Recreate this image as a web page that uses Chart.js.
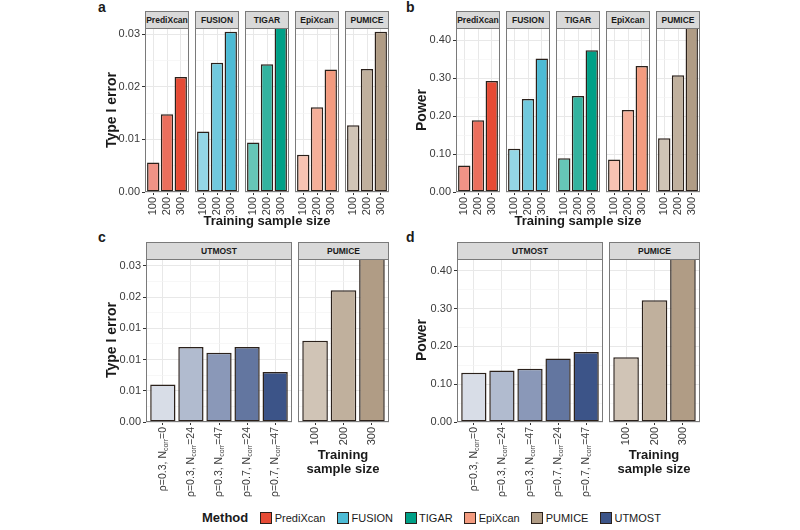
<!DOCTYPE html>
<html>
<head>
<meta charset="utf-8">
<script src="https://cdn.jsdelivr.net/npm/chart.js@4.4.1/dist/chart.umd.min.js"></script>
<style>
  body { margin: 0; width: 800px; height: 530px; position: relative; overflow: hidden; background: #fff;
         font-family: "Liberation Sans", Arial, Helvetica, sans-serif; color: #1a1a1a; }
  canvas { position: absolute; }
  .strip { position: absolute; box-sizing: border-box; background: #d9d9d9; border: 1px solid #7a7a7a;
           font-weight: bold; font-size: 8.5px; display: flex; align-items: center; justify-content: center; }
  .ytitle { position: absolute; font-weight: bold; font-size: 14px; white-space: nowrap;
            transform: translate(-50%, -50%) rotate(-90deg); }
  .xtitle { position: absolute; font-weight: bold; font-size: 13px; line-height: 14px; text-align: center;
            transform: translateX(-50%); white-space: nowrap; }
  .letter { position: absolute; font-weight: bold; font-size: 14px; line-height: 14px; }
  #legend { position: absolute; left: 202px; top: 510px; display: flex;
            align-items: center; font-size: 11px; white-space: nowrap; }
  #legend .key { width: 10px; height: 10px; border: 1px solid #2b211b; margin-right: 2.5px; }
  #legend .item { display: flex; align-items: center; margin-right: 11.5px; }
</style>
</head>
<body>
<div id="legend"></div>
<script>
const FONT = '"Liberation Sans", Arial, Helvetica, sans-serif';

// Методы и цвета
const METHODS = ['PrediXcan', 'FUSION', 'TIGAR', 'EpiXcan', 'PUMICE', 'UTMOST'];
const METHOD_COLORS = ['#E64B35', '#4DBBD5', '#00A087', '#F39B7F', '#B09C85', '#3C5488'];
const SIZES = ['100', '200', '300'];

// a: Type I error
const errPrediXcan = [0.0056, 0.0148, 0.0219];
const errFusion    = [0.0115, 0.0246, 0.0305];
const errTigar     = [0.0094, 0.0243, 0.0330];
const errEpiXcan   = [0.0071, 0.0161, 0.0233];
const errPumice    = [0.0127, 0.0234, 0.0305];
const errTicks      = [0, 0.01, 0.02, 0.03];
const errTickLabels = ['0.00', '0.01', '0.02', '0.03'];

// b: Power
const powPrediXcan = [0.070, 0.189, 0.293];
const powFusion    = [0.114, 0.245, 0.352];
const powTigar     = [0.089, 0.253, 0.374];
const powEpiXcan   = [0.086, 0.216, 0.332];
const powPumice    = [0.142, 0.308, 0.460];
const powTicks      = [0, 0.1, 0.2, 0.3, 0.4];
const powTickLabels = ['0.00', '0.10', '0.20', '0.30', '0.40'];

// c / d: UTMOST vs PUMICE
const utmostRho   = ['0.3', '0.3', '0.3', '0.7', '0.7'];
const utmostNcorr = ['0', '24', '47', '24', '47'];
const errUtmost   = [0.0060, 0.0120, 0.0111, 0.0120, 0.0080];
const errPumiceC  = [0.0130, 0.0211, 0.0280];
const errTicksC      = [0, 0.005, 0.01, 0.015, 0.02, 0.025];
const errTickLabelsC = ['0.00', '0.01', '0.01', '0.01', '0.02', '0.03'];
const powUtmost   = [0.130, 0.136, 0.141, 0.168, 0.185];
const powPumiceD  = [0.171, 0.322, 0.460];

// Утилиты
function tint(hex, a) {
  const n = parseInt(hex.slice(1), 16);
  const c = [n >> 16, (n >> 8) & 255, n & 255].map(v => Math.round(v * a + 255 * (1 - a)));
  return `rgb(${c.join(',')})`;
}

function withMinor(major, max) {
  const out = [];
  major.forEach((v, i) => {
    out.push({ value: v, minor: false });
    const step = i < major.length - 1 ? major[i + 1] - v : v - major[i - 1];
    if (v + step / 2 <= max) out.push({ value: v + step / 2, minor: true });
  });
  return out;
}

function addEl(cls, text, css) {
  const el = document.createElement('div');
  el.className = cls;
  el.innerHTML = text;
  el.style.cssText = css;
  document.body.appendChild(el);
  return el;
}

const panelBorder = {
  id: 'panelBorder',
  afterDatasetsDraw(chart) {
    const a = chart.chartArea, ctx = chart.ctx;
    ctx.save();
    ctx.strokeStyle = '#7a7a7a';
    ctx.lineWidth = 1;
    ctx.strokeRect(a.left + 0.5, a.top + 0.5, a.right - a.left - 1, a.bottom - a.top - 1);
    ctx.restore();
  }
};

// подписи вида ρ=0.3, N_corr=24 (с нижним индексом)
function subscriptLabels(rho, ncorr) {
  return {
    id: 'subLabels',
    afterDraw(chart) {
      const { ctx, chartArea } = chart;
      const xs = chart.scales.x;
      ctx.save();
      ctx.fillStyle = '#3a3a3a';
      ctx.textBaseline = 'middle';
      ctx.textAlign = 'left';
      rho.forEach((r, i) => {
        const parts = [[`ρ=${r}, N`, 10.5, 0], ['corr', 7, 3], [`=${ncorr[i]}`, 10.5, 0]];
        const widths = parts.map(([t, s]) => { ctx.font = `${s}px ${FONT}`; return ctx.measureText(t).width; });
        const total = widths.reduce((a, b) => a + b, 0);
        ctx.save();
        ctx.translate(xs.getPixelForValue(i), chartArea.bottom + 5);
        ctx.rotate(-Math.PI / 2);
        let px = -total;
        parts.forEach(([t, s, dy], k) => {
          ctx.font = `${s}px ${FONT}`;
          ctx.fillText(t, px, dy);
          px += widths[k];
        });
        ctx.restore();
      });
      ctx.restore();
    }
  };
}

function makeFacet(o) {
  const axisW = o.axisW || 0;
  const cv = document.createElement('canvas');
  cv.width = o.w + axisW;
  cv.height = o.h + o.axisH;
  cv.style.left = (o.x - axisW) + 'px';
  cv.style.top = o.y + 'px';
  document.body.appendChild(cv);

  addEl('strip', o.title, `left:${o.x}px;top:${o.y - 17}px;width:${o.w}px;height:18px`);

  const n = o.values.length;
  const yTicks = withMinor(o.yTicks, o.yMax);
  const plugins = [panelBorder];
  if (o.sub) plugins.push(subscriptLabels(o.sub.rho, o.sub.ncorr));

  new Chart(cv, {
    type: 'bar',
    data: {
      datasets: [{
        data: o.values.map((v, i) => ({ x: i, y: v })),
        backgroundColor: o.colors,
        borderColor: '#2b211b',
        borderWidth: 1.5,
        borderSkipped: false,
        barPercentage: 0.9,
        categoryPercentage: 1,
        clip: 0,
      }],
    },
    options: {
      responsive: false,
      animation: false,
      events: [],
      layout: { padding: 0 },
      plugins: { legend: { display: false }, tooltip: { enabled: false } },
      scales: {
        x: {
          type: 'linear',
          offset: false,
          min: -0.6,
          max: n - 0.4,
          afterBuildTicks: s => { s.ticks = o.values.map((_, i) => ({ value: i })); },
          afterFit: s => { s.height = o.axisH; s.paddingLeft = 0; s.paddingRight = 0; },
          border: { display: false },
          grid: { offset: false, color: '#e8e8e8', lineWidth: 1, tickColor: '#333', tickLength: 3 },
          ticks: {
            autoSkip: false, minRotation: 90, maxRotation: 90, padding: 2,
            color: '#3a3a3a', font: { size: 11 },
            callback: v => (o.sub ? '' : o.labels[v]),
          },
        },
        y: {
          min: 0,
          max: o.yMax,
          afterBuildTicks: s => { s.ticks = yTicks.map(t => ({ ...t })); },
          afterFit: s => { s.width = axisW; s.paddingTop = 0; s.paddingBottom = 0; },
          border: { display: false },
          grid: {
            color: c => (c.tick && c.tick.minor ? '#f3f3f3' : '#e8e8e8'),
            lineWidth: c => (c.tick && c.tick.minor ? 0.7 : 1),
            drawTicks: !!axisW,
            tickLength: 3,
            tickColor: c => (c.tick && !c.tick.minor ? '#333' : 'rgba(0,0,0,0)'),
          },
          ticks: {
            display: !!axisW, autoSkip: false, padding: 2,
            color: '#3a3a3a', font: { size: 11 },
            callback: v => { const k = o.yTicks.indexOf(v); return k >= 0 ? o.yLabels[k] : ''; },
          },
        },
      },
    },
    plugins,
  });
}

Chart.defaults.font.family = FONT;

const SIZE_ALPHA = [0.6, 0.8, 1];
const UTMOST_ALPHA = [0.2, 0.4, 0.6, 0.8, 1];
const errSeries = [errPrediXcan, errFusion, errTigar, errEpiXcan, errPumice];
const powSeries = [powPrediXcan, powFusion, powTigar, powEpiXcan, powPumice];

// a и b
METHODS.slice(0, 5).forEach((m, k) => {
  const colors = SIZE_ALPHA.map(a => tint(METHOD_COLORS[k], a));
  makeFacet({ x: 145 + 50 * k, y: 28, w: 44, h: 164, axisW: k ? 0 : 40, axisH: 24, title: m,
    labels: SIZES, values: errSeries[k], colors, yMax: 0.0312, yTicks: errTicks, yLabels: errTickLabels });
  makeFacet({ x: 456 + 50 * k, y: 28, w: 44, h: 164, axisW: k ? 0 : 40, axisH: 24, title: m,
    labels: SIZES, values: powSeries[k], colors, yMax: 0.4325, yTicks: powTicks, yLabels: powTickLabels });
});

// c и d
const utmostColors = UTMOST_ALPHA.map(a => tint(METHOD_COLORS[5], a));
const pumiceColors = SIZE_ALPHA.map(a => tint(METHOD_COLORS[4], a));
makeFacet({ x: 146, y: 259, w: 146, h: 163, axisW: 40, axisH: 80, title: 'UTMOST',
  labels: utmostRho, sub: { rho: utmostRho, ncorr: utmostNcorr }, values: errUtmost, colors: utmostColors,
  yMax: 0.0261, yTicks: errTicksC, yLabels: errTickLabelsC });
makeFacet({ x: 298, y: 259, w: 91, h: 163, axisH: 80, title: 'PUMICE',
  labels: SIZES, values: errPumiceC, colors: pumiceColors,
  yMax: 0.0261, yTicks: errTicksC, yLabels: errTickLabelsC });
makeFacet({ x: 457, y: 259, w: 146, h: 163, axisW: 40, axisH: 80, title: 'UTMOST',
  labels: utmostRho, sub: { rho: utmostRho, ncorr: utmostNcorr }, values: powUtmost, colors: utmostColors,
  yMax: 0.431, yTicks: powTicks, yLabels: powTickLabels });
makeFacet({ x: 609, y: 259, w: 91, h: 163, axisH: 80, title: 'PUMICE',
  labels: SIZES, values: powPumiceD, colors: pumiceColors,
  yMax: 0.431, yTicks: powTicks, yLabels: powTickLabels });

// Подписи
addEl('letter', 'a', 'left:98px;top:0px');
addEl('letter', 'b', 'left:406px;top:0px');
addEl('letter', 'c', 'left:98px;top:230px');
addEl('letter', 'd', 'left:406px;top:230px');

addEl('ytitle', 'Type I error', 'left:111px;top:110px');
addEl('ytitle', 'Power', 'left:421px;top:110px');
addEl('ytitle', 'Type I error', 'left:111px;top:340px');
addEl('ytitle', 'Power', 'left:421px;top:340px');

addEl('xtitle', 'Training sample size', 'left:267px;top:214px');
addEl('xtitle', 'Training sample size', 'left:578px;top:214px');
addEl('xtitle', 'Training<br>sample size', 'left:343px;top:448px');
addEl('xtitle', 'Training<br>sample size', 'left:654px;top:448px');

// Легенда
const legend = document.getElementById('legend');
legend.innerHTML = '<span style="font-weight:bold;font-size:13px;margin-right:12px">Method</span>' +
  METHODS.map((m, i) => `<span class="item"><span class="key" style="background:${METHOD_COLORS[i]}"></span>${m}</span>`).join('');
</script>
</body>
</html>
